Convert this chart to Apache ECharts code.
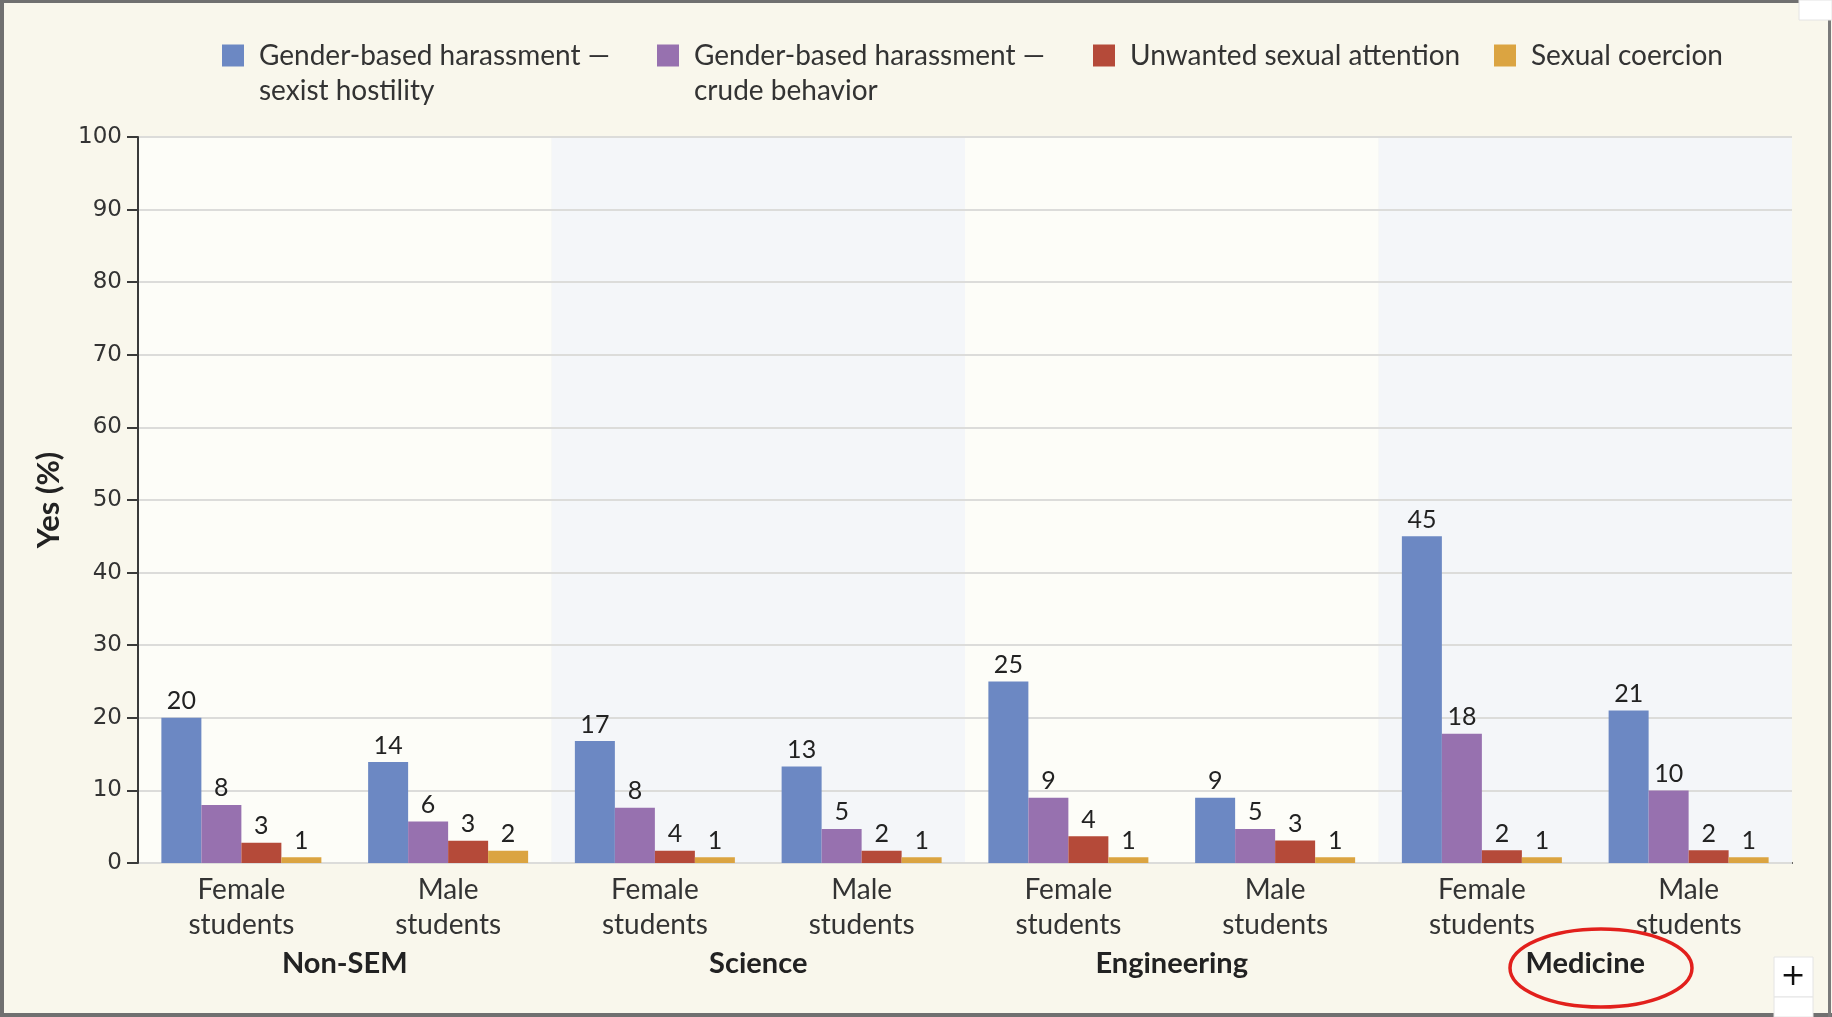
<!DOCTYPE html>
<html>
<head>
<meta charset="utf-8">
<script src="https://cdn.jsdelivr.net/npm/echarts@6/dist/echarts.min.js"></script>
<style>
  html, body { margin: 0; padding: 0; background: #F9F7EC; }
  #chart { width: 1832px; height: 1017px; }
</style>
</head>
<body>
<div id="chart"></div>
<script>
// categories
const groups = ['Non-SEM', 'Science', 'Engineering', 'Medicine']
const students = ['Female\nstudents', 'Male\nstudents', 'Female\nstudents', 'Male\nstudents',
  'Female\nstudents', 'Male\nstudents', 'Female\nstudents', 'Male\nstudents']

const seriesNames = [
  'Gender-based harassment — sexist hostility',
  'Gender-based harassment — crude behavior',
  'Unwanted sexual attention',
  'Sexual coercion'
]

// bar heights as drawn
const sexistHostility = [20, 13.9, 16.8, 13.3, 25, 9, 45, 21]
const crudeBehavior = [8, 5.7, 7.6, 4.7, 9, 4.7, 17.8, 10]
const unwantedAttention = [2.8, 3.05, 1.7, 1.7, 3.7, 3.1, 1.75, 1.75]
const sexualCoercion = [0.8, 1.7, 0.8, 0.8, 0.8, 0.8, 0.8, 0.8]

// numbers printed above the bars
const sexistHostilityLabels = [20, 14, 17, 13, 25, 9, 45, 21]
const crudeBehaviorLabels = [8, 6, 8, 5, 9, 5, 18, 10]
const unwantedAttentionLabels = [3, 3, 4, 2, 4, 3, 2, 2]
const sexualCoercionLabels = [1, 2, 1, 1, 1, 1, 1, 1]

const yTicks = [0, 10, 20, 30, 40, 50, 60, 70, 80, 90, 100]

const colors = ['#6C88C3', '#9771AF', '#B54A39', '#DBA441']
const values = [sexistHostility, crudeBehavior, unwantedAttention, sexualCoercion]
const labels = [sexistHostilityLabels, crudeBehaviorLabels, unwantedAttentionLabels, sexualCoercionLabels]

// legend display text (leading blank line keeps the icon beside the first line)
const legendText = {
  [seriesNames[0]]: '\nGender-based harassment —\nsexist hostility',
  [seriesNames[1]]: '\nGender-based harassment —\ncrude behavior',
  [seriesNames[2]]: 'Unwanted sexual attention',
  [seriesNames[3]]: 'Sexual coercion'
}
const legendLeft = [217, 652, 1088, 1489]
const legendTop = [-2, -2, 33, 33]

const font = 'Lato'

const chart = echarts.init(document.getElementById('chart'))

const option = {
  backgroundColor: '#F9F7EC',
  animation: false,
  textStyle: { fontFamily: font },
  legend: seriesNames.map((n, i) => ({
    data: [n],
    left: legendLeft[i],
    top: legendTop[i],
    itemWidth: 22,
    itemHeight: 22,
    icon: 'rect',
    selectedMode: false,
    formatter: name => legendText[name],
    textStyle: { fontFamily: font, fontSize: 28, color: '#333', lineHeight: 35, padding: [0, 0, 0, 10] }
  })),
  grid: { left: 138, top: 137, width: 1654, height: 726 },
  xAxis: [
    {
      type: 'category',
      data: students,
      axisLine: { lineStyle: { color: '#3a3a3a', width: 2 } },
      axisTick: { show: false },
      axisLabel: { fontFamily: font, fontSize: 28, color: '#333', lineHeight: 35, margin: 9, interval: 0 }
    },
    {
      type: 'category',
      data: groups,
      position: 'bottom',
      axisLine: { show: false },
      axisTick: { show: false },
      splitLine: { show: false },
      splitArea: { show: true, areaStyle: { color: ['#FDFDF8', '#F4F6F9'] } },
      axisLabel: { fontFamily: font, fontSize: 29, fontWeight: 'bold', color: '#222', margin: 86 }
    }
  ],
  yAxis: {
    type: 'value',
    min: yTicks[0],
    max: yTicks[yTicks.length - 1],
    interval: 10,
    z: 3,
    name: 'Yes (%)',
    nameLocation: 'middle',
    nameRotate: 90,
    nameGap: 74,
    nameTextStyle: { fontFamily: font, fontSize: 31, fontWeight: 'bold', color: '#222' },
    axisLine: { show: true, lineStyle: { color: '#3a3a3a', width: 2 } },
    axisTick: { show: true, length: 11, lineStyle: { color: '#3a3a3a', width: 2 } },
    axisLabel: { fontFamily: 'DejaVu Sans', fontSize: 23, color: '#333', margin: 16 },
    splitLine: { lineStyle: { color: '#DCDCDA', width: 2 } }
  },
  series: seriesNames.map((n, i) => ({
    name: n,
    type: 'bar',
    data: values[i],
    barWidth: 40,
    barGap: '0%',
    z: 4,
    itemStyle: { color: colors[i] },
    label: {
      show: true,
      position: 'top',
      distance: 4,
      fontFamily: font,
      fontSize: 25,
      color: '#222',
      formatter: p => labels[i][p.dataIndex]
    }
  })),
  graphic: [
    // page frame
    { type: 'rect', shape: { x: 0, y: 0, width: 4, height: 1017 }, style: { fill: '#707070' }, z: 10 },
    { type: 'rect', shape: { x: 0, y: 0, width: 1799, height: 3 }, style: { fill: '#707070' }, z: 10 },
    { type: 'rect', shape: { x: 0, y: 1013, width: 1832, height: 4 }, style: { fill: '#707070' }, z: 10 },
    { type: 'rect', shape: { x: 1828, y: 20, width: 3, height: 1000 }, style: { fill: '#7a7a7a' }, z: 10 },
    { type: 'rect', shape: { x: 1799, y: 0, width: 33, height: 20 }, style: { fill: '#fff', stroke: '#e4e4e4' }, z: 11 },
    { type: 'rect', shape: { x: 1774, y: 957, width: 39, height: 40 }, style: { fill: '#fff', stroke: '#e4e4e4' }, z: 11 },
    { type: 'rect', shape: { x: 1774, y: 997, width: 39, height: 20 }, style: { fill: '#fff', stroke: '#e4e4e4' }, z: 11 },
    { type: 'text', x: 1793, y: 977, style: { text: '+', fontSize: 30, fontFamily: 'DejaVu Sans', fill: '#111', align: 'center', verticalAlign: 'middle' }, z: 12 },
    // red annotation ring
    { type: 'ellipse', shape: { cx: 1601, cy: 968, rx: 91, ry: 39 }, style: { fill: 'none', stroke: '#E2201C', lineWidth: 3.5 }, z: 12 }
  ]
}

chart.setOption(option)
window.addEventListener('resize', () => chart.resize())
</script>
</body>
</html>
